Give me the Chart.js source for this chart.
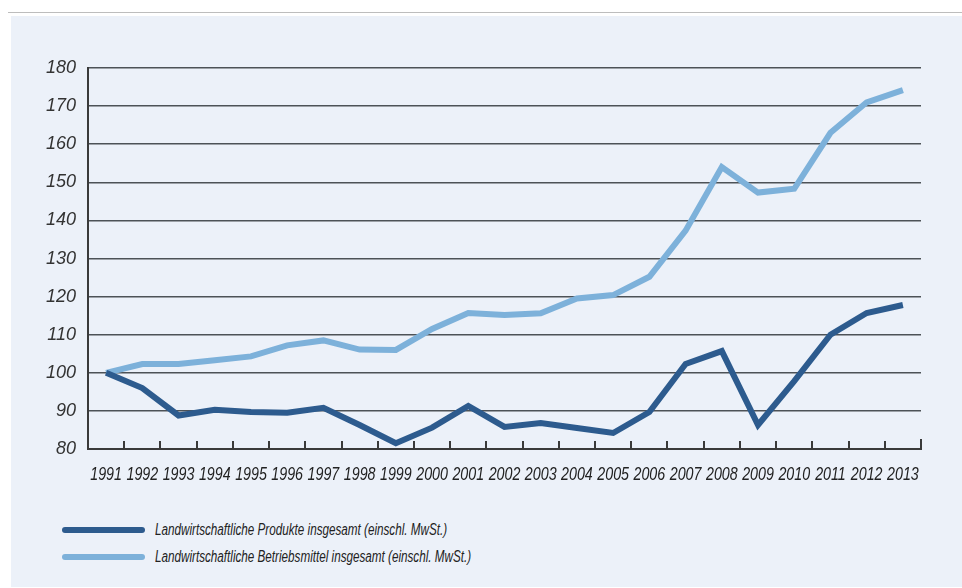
<!DOCTYPE html>
<html>
<head>
<meta charset="utf-8">
<script src="https://cdn.jsdelivr.net/npm/chart.js@4.4.0/dist/chart.umd.min.js"></script>
<style>
  body { margin: 0; background: #fff; width: 962px; height: 588px; position: relative; overflow: hidden; }
  #topline { position: absolute; left: 8px; top: 12px; width: 954px; height: 1px; background: #bdbdbd; }
  #panel { position: absolute; left: 11px; top: 16px; width: 951px; height: 571px; background: #ecf1f9; }
  #wrap { position: absolute; left: 0; top: 0; width: 962px; height: 500px; }
  #legend { position: absolute; left: 62px; top: 516px; font-family: "Liberation Sans", Arial, sans-serif; font-style: italic; font-size: 16px; color: #222; }
  .item { height: 27px; display: flex; align-items: center; white-space: nowrap; }
  .swatch { display: inline-block; width: 83px; height: 6px; border-radius: 3px; margin-right: 10px; flex: none; }
  .txt { display: inline-block; transform: scaleX(0.73); transform-origin: left center; }
</style>
</head>
<body>
<div id="topline"></div>
<div id="panel"></div>
<div id="wrap"><canvas id="chart" width="962" height="500"></canvas></div>
<div id="legend"></div>
<script>
// Werte (Index 1991 = 100)
const jahre = ['1991', '1992', '1993', '1994', '1995', '1996', '1997', '1998', '1999', '2000', '2001', '2002',
    '2003', '2004', '2005', '2006', '2007', '2008', '2009', '2010', '2011', '2012', '2013'];
const produkte = [100, 96, 88.8, 90.3, 89.7, 89.5, 90.8, 86.3, 81.5, 85.6, 91.3, 85.8,
    86.8, 85.5, 84.2, 89.7, 102.3, 105.7, 86.3, 97.8, 110, 115.7, 117.8];
const betriebsmittel = [100, 102.3, 102.3, 103.3, 104.3, 107.2, 108.5, 106.1, 106, 111.5, 115.7, 115.2,
    115.6, 119.5, 120.4, 125.2, 137.3, 154, 147.3, 148.3, 163, 171, 174.2];
const yTicks = [80, 90, 100, 110, 120, 130, 140, 150, 160, 170, 180];
const serienNamen = ['Landwirtschaftliche Produkte insgesamt (einschl. MwSt.)',
    'Landwirtschaftliche Betriebsmittel insgesamt (einschl. MwSt.)'];
const farben = ['#2d5b8e', '#7db1da'];

// kleine Striche auf der x-Achse (nach oben) und schmale Jahreszahlen
const xAchse = {
    id: 'xAchse',
    afterDraw(chart) {
        const x = chart.scales.x;
        const ctx = chart.ctx;
        const n = jahre.length;
        ctx.save();
        ctx.strokeStyle = '#3a3a3a';
        ctx.lineWidth = 2;
        for (let i = 1; i <= n; i++) {
            const px = Math.round(x.left + i * x.width / n);
            ctx.beginPath();
            ctx.moveTo(px, x.top);
            ctx.lineTo(px, x.top - (i === n ? 10 : 8));
            ctx.stroke();
        }
        ctx.fillStyle = '#222';
        ctx.font = 'italic 19px "Liberation Sans", Arial, sans-serif';
        ctx.textAlign = 'center';
        ctx.textBaseline = 'middle';
        jahre.forEach(function(j, i) {
            ctx.save();
            ctx.translate(x.getPixelForValue(i), x.top + 26);
            ctx.scale(0.75, 1);
            ctx.fillText(j, 0, 0);
            ctx.restore();
        });
        ctx.restore();
    }
};

const ctx = document.getElementById('chart').getContext('2d');
new Chart(ctx, {
    type: 'line',
    data: {
        labels: jahre,
        datasets: [
            { label: serienNamen[0], data: produkte, borderColor: farben[0], borderWidth: 6, pointRadius: 0, tension: 0 },
            { label: serienNamen[1], data: betriebsmittel, borderColor: farben[1], borderWidth: 6, pointRadius: 0, tension: 0 }
        ]
    },
    options: {
        responsive: false,
        animation: false,
        layout: { padding: { left: 20, right: 41, top: 68, bottom: 11 } },
        plugins: { legend: { display: false }, tooltip: { enabled: false } },
        scales: {
            x: {
                offset: true,
                grid: { display: false, drawTicks: false },
                border: { display: true, color: '#3a3a3a', width: 2 },
                ticks: { display: false },
                afterFit(scale) { scale.height = 40; }
            },
            y: {
                min: 80, max: 180,
                afterBuildTicks(scale) { scale.ticks = yTicks.map(v => ({ value: v })); },
                grid: { color: '#4d5257', lineWidth: 1.5, drawTicks: false },
                border: { display: true, color: '#3a3a3a', width: 2 },
                ticks: {
                    padding: 12, color: '#333',
                    font: { family: '"Liberation Sans", Arial, sans-serif', style: 'italic', size: 18 }
                },
                afterFit(scale) { scale.width = 68; }
            }
        }
    },
    plugins: [xAchse]
});

// Legende
const legende = document.getElementById('legend');
serienNamen.forEach(function(name, i) {
    const item = document.createElement('div');
    item.className = 'item';
    const sw = document.createElement('span');
    sw.className = 'swatch';
    sw.style.background = farben[i];
    const txt = document.createElement('span');
    txt.className = 'txt';
    txt.textContent = name;
    item.appendChild(sw);
    item.appendChild(txt);
    legende.appendChild(item);
});
</script>
</body>
</html>
